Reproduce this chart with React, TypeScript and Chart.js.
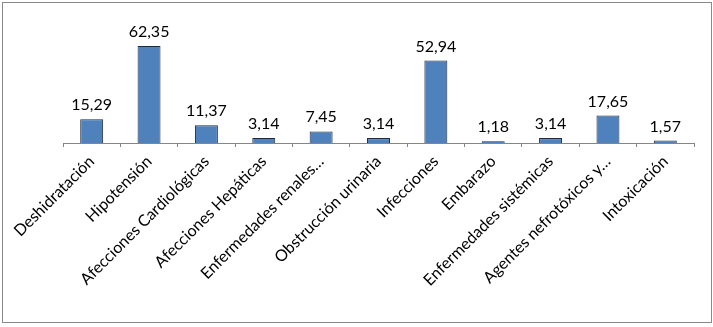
import React, { useEffect, useRef } from "react";
import { Chart, registerables } from "chart.js";

Chart.register(...registerables);

const categories = [
  "Deshidratación",
  "Hipotensión",
  "Afecciones Cardiológicas",
  "Afecciones Hepáticas",
  "Enfermedades renales…",
  "Obstrucción urinaria",
  "Infecciones",
  "Embarazo",
  "Enfermedades sistémicas",
  "Agentes nefrotóxicos y…",
  "Intoxicación",
];

const values = [15.29, 62.35, 11.37, 3.14, 7.45, 3.14, 52.94, 1.18, 3.14, 17.65, 1.57];

const yMin = 0;
const yMax = 70;

const FONT = "Lato, 'Open Sans', sans-serif";

const valueLabels = {
  id: "valueLabels",
  afterDatasetsDraw(chart: any) {
    const ctx = chart.ctx;
    const meta = chart.getDatasetMeta(0);
    ctx.save();
    ctx.font = `16px ${FONT}`;
    ctx.fillStyle = "#000";
    ctx.textAlign = "center";
    ctx.textBaseline = "alphabetic";
    meta.data.forEach((bar: any, i: number) => {
      const txt = values[i].toFixed(2).replace(".", ",");
      ctx.fillText(txt, bar.x, bar.y - 9);
    });
    ctx.restore();
  },
};

export default function App() {
  const ref = useRef<HTMLCanvasElement>(null);
  useEffect(() => {
    if (!ref.current) return;
    const chart = new Chart(ref.current, {
      type: "bar",
      data: {
        labels: categories,
        datasets: [
          {
            data: values,
            backgroundColor: "#4F81BD",
            borderColor: "#1c2a3f",
            borderWidth: 1,
            barPercentage: 0.4,
            categoryPercentage: 1,
          },
        ],
      },
      options: {
        responsive: false,
        animation: false,
        events: [],
        layout: { padding: { top: 31, left: 60, right: 17, bottom: 0 } },
        plugins: { legend: { display: false }, tooltip: { enabled: false } },
        scales: {
          x: {
            afterFit: (scale: any) => {
              scale.height = 179;
            },
            border: { display: true, color: "#868686", width: 1 },
            grid: {
              display: true,
              offset: true,
              drawOnChartArea: false,
              drawTicks: true,
              tickLength: 4,
              color: "#868686",
            },
            ticks: {
              autoSkip: false,
              minRotation: 45,
              maxRotation: 45,
              color: "#000",
              padding: 5,
              font: { family: FONT, size: 16 },
            },
          },
          y: {
            display: false,
            min: yMin,
            max: yMax,
          },
        },
      },
      plugins: [valueLabels],
    });
    return () => chart.destroy();
  }, []);
  return (
    <div
      style={{
        position: "fixed",
        left: 2,
        top: 2,
        width: 708,
        height: 319,
        border: "1px solid #898989",
        background: "#fff",
      }}
    >
      <canvas ref={ref} width={708} height={319} style={{ display: "block" }} />
    </div>
  );
}
